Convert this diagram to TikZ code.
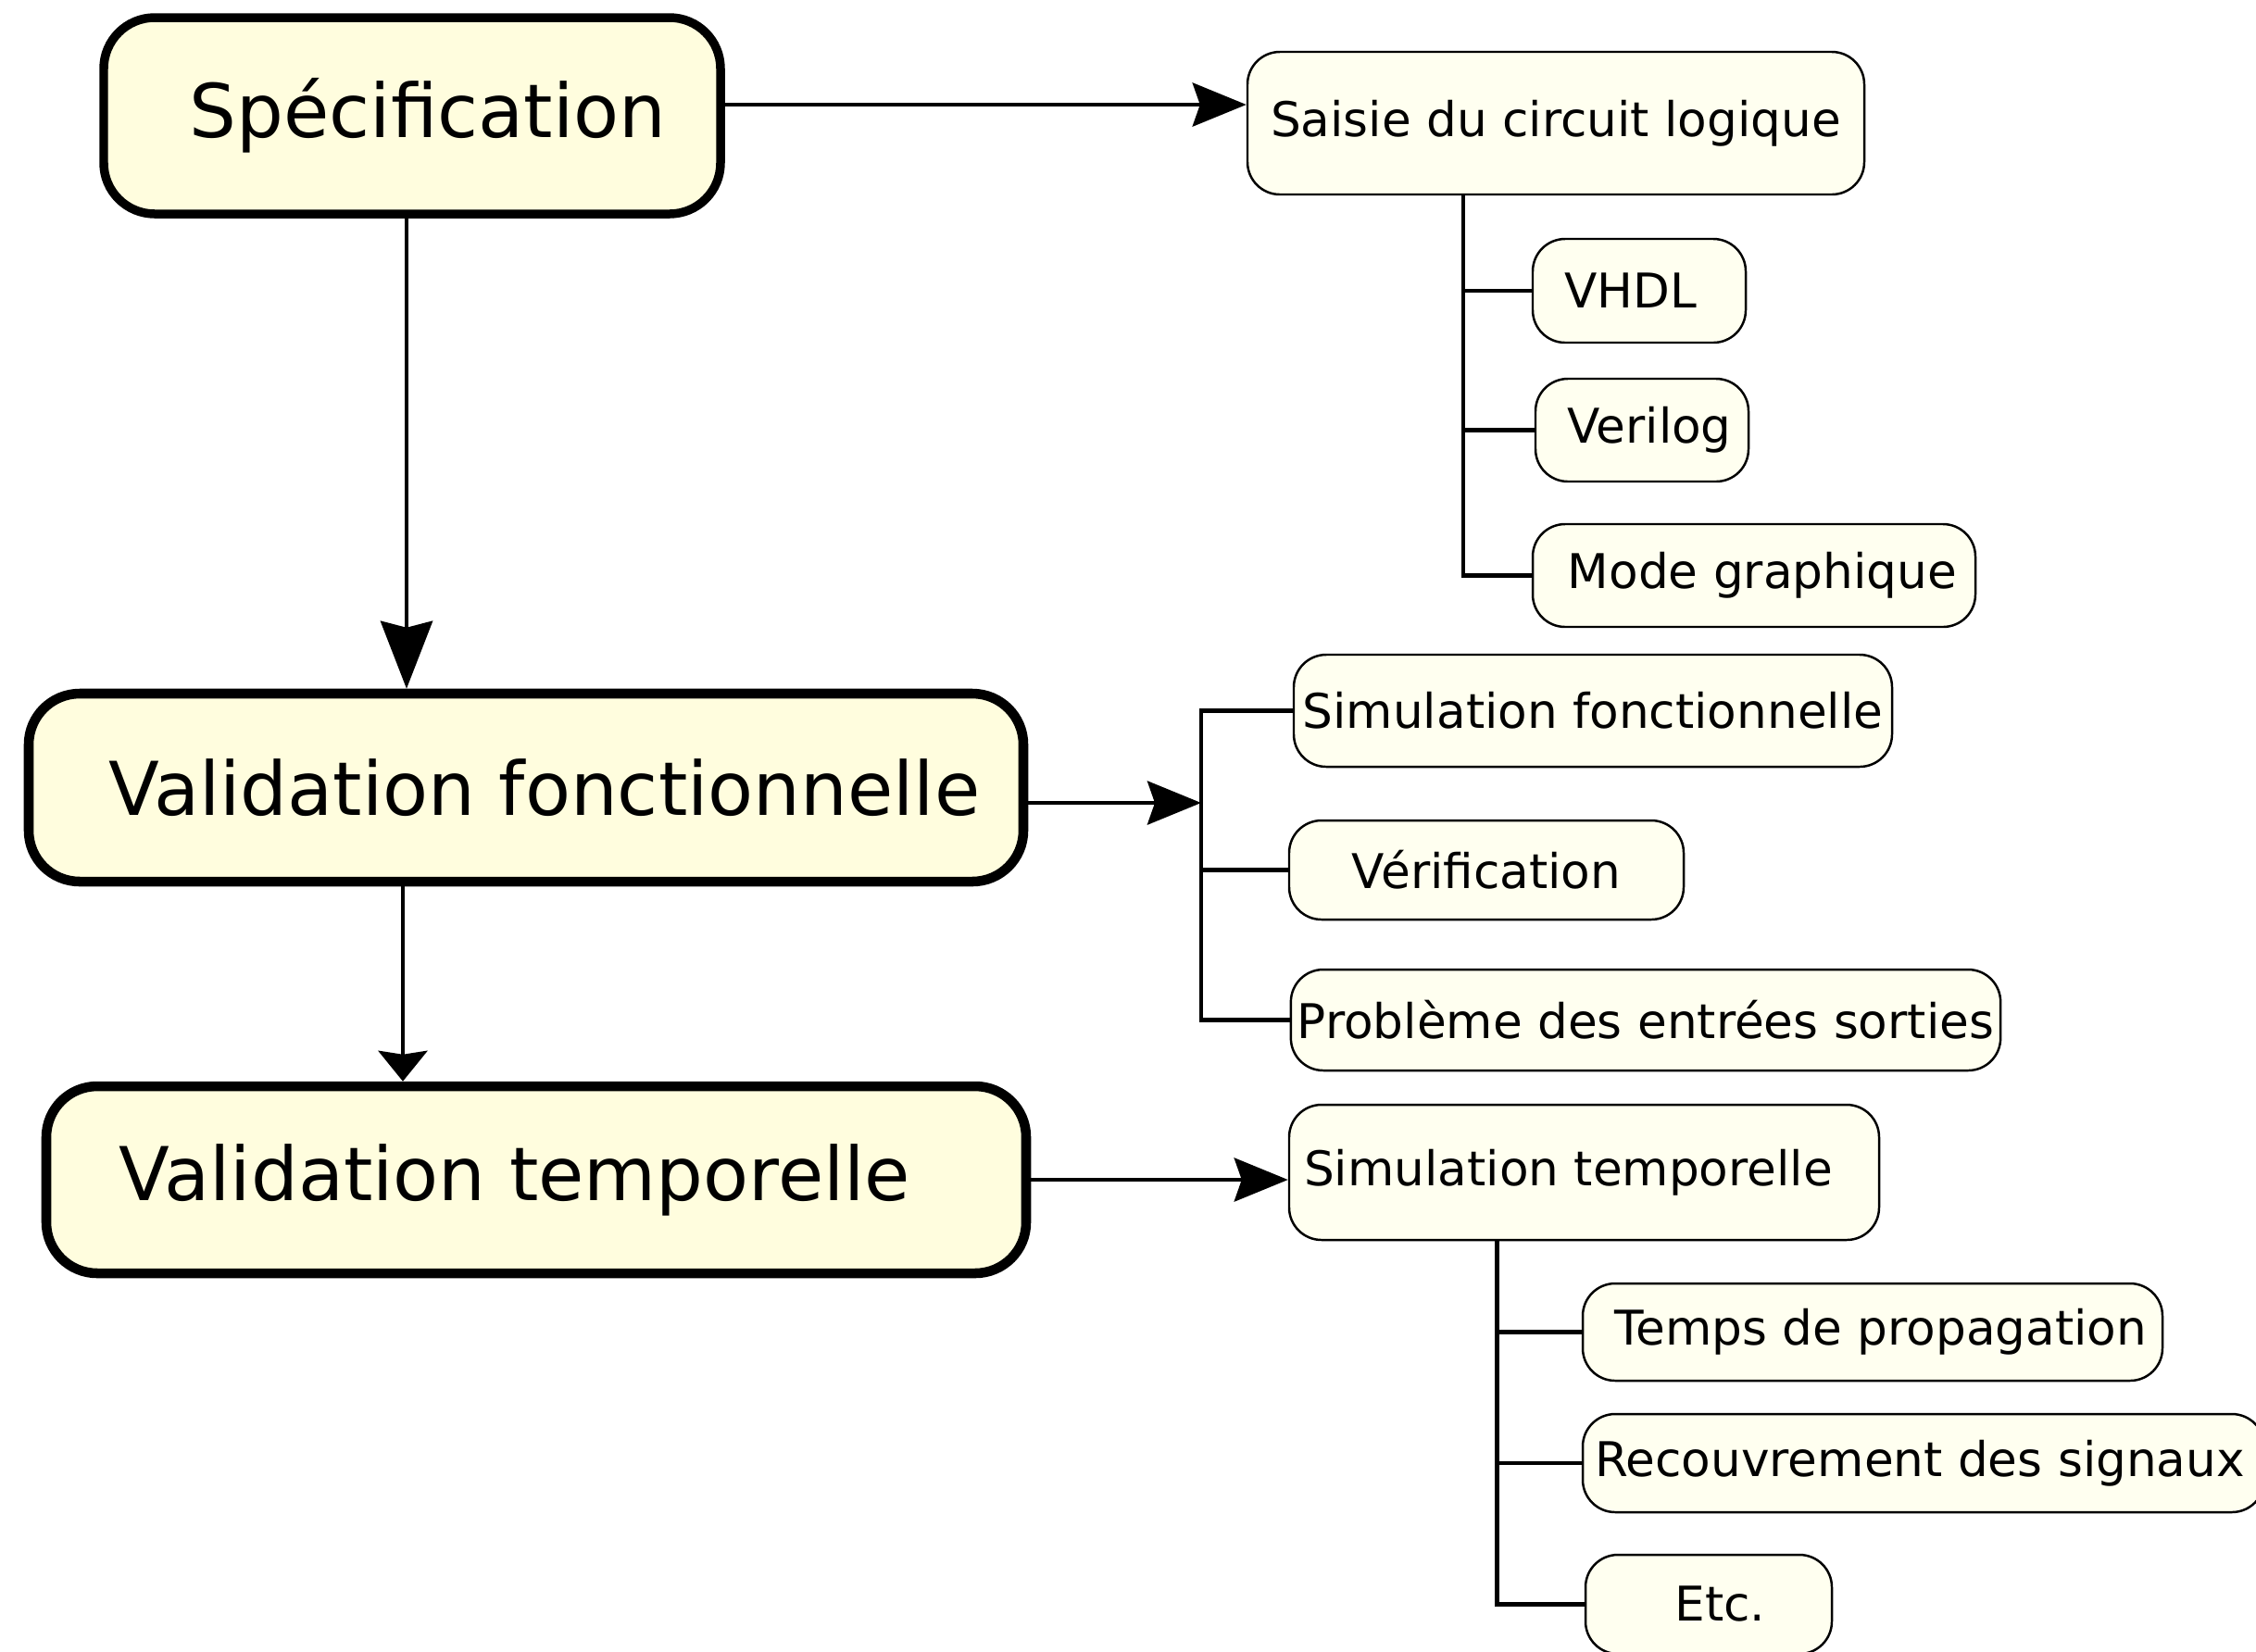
\documentclass[tikz,border=0pt]{standalone}
\usepackage{fontspec}
\setmainfont{DejaVu Sans}
\usetikzlibrary{arrows.meta,positioning}

\definecolor{phaseyellow}{RGB}{255,253,222}
\definecolor{taskivory}{RGB}{255,255,240}

\begin{document}
\begin{tikzpicture}[
    phase/.style={draw, line width=3pt, rounded corners=0.55cm, fill=phaseyellow,
                  font=\fontsize{22.8}{27}\selectfont, inner sep=2pt},
    task/.style={draw, line width=0.7pt, rounded corners=0.35cm, fill=taskivory,
                 font=\fontsize{14.7}{17}\selectfont, inner sep=2pt},
    link/.style={line width=1.2pt},
    flow/.style={line width=1.4pt, -{Stealth[length=0.58cm, width=0.47cm, inset=0.08cm]}},
]
\useasboundingbox (0,0) rectangle (24.36,-17.83);

% main phases
\node[phase, line width=2.7pt, minimum width=6.66cm, minimum height=2.12cm] (spec) at (4.45,-1.25) {\hspace*{0.34cm}Spécification};
\node[phase, minimum width=10.74cm, minimum height=2.03cm] (valf) at (5.68,-8.505) {\hspace*{0.40cm}Validation fonctionnelle};
\node[phase, minimum width=10.58cm, minimum height=2.02cm] (valt) at (5.79,-12.74) {Validation temporelle\hspace*{0.46cm}};

% tasks
\node[task, minimum width=6.66cm, minimum height=1.54cm] (saisie) at (16.80,-1.33) {Saisie du circuit logique};
\node[task, minimum width=2.30cm, minimum height=1.12cm] (vhdl) at (17.70,-3.14) {VHDL\hspace*{0.18cm}};
\node[task, minimum width=2.30cm, minimum height=1.11cm] (verilog) at (17.73,-4.645) {\hspace*{0.16cm}Verilog};
\node[task, minimum width=4.78cm, minimum height=1.11cm] (mode) at (18.94,-6.215) {\hspace*{0.18cm}Mode graphique};
\node[task, minimum width=6.46cm, minimum height=1.21cm] (simf) at (17.20,-7.675) {Simulation fonctionnelle};
\node[task, minimum width=4.26cm, minimum height=1.07cm] (verif) at (16.05,-9.395) {Vérification};
\node[task, minimum width=7.64cm, minimum height=1.09cm] (prob) at (17.77,-11.015) {Problème des entrées sorties};
\node[task, minimum width=6.37cm, minimum height=1.46cm] (simt) at (17.105,-12.66) {Simulation temporelle\hspace*{0.34cm}};
\node[task, minimum width=6.26cm, minimum height=1.05cm] (temps) at (20.22,-14.385) {\hspace*{0.18cm}Temps de propagation};
\node[task, minimum width=7.36cm, minimum height=1.06cm] (recouv) at (20.77,-15.80) {Recouvrement des signaux\hspace*{0.08cm}};
\node[task, minimum width=2.66cm, minimum height=1.07cm] (etc) at (18.45,-17.325) {\hspace*{0.25cm}Etc.};

% flow between phases
\draw[flow] ([yshift=0.12cm]spec.east) -- ([yshift=0.12cm]spec.east -| saisie.west);
\draw[flow, -{Stealth[length=0.73cm, width=0.56cm, inset=0.07cm]}] ([xshift=-0.06cm]spec.south) -- ([xshift=-0.06cm]spec.south |- valf.north);
\draw[flow, line width=1.3pt, -{Stealth[length=0.33cm, width=0.53cm, inset=0.04cm]}] ([xshift=-0.1cm]spec.south |- valf.south) -- ([xshift=-0.1cm]spec.south |- valt.north);

% saisie branches
\coordinate (trunkS) at ([xshift=-1cm]saisie.south);
\draw[link] (trunkS) |- (vhdl.west);
\draw[link] (trunkS) |- (verilog.west);
\draw[link] (trunkS) |- (mode.west);

% validation fonctionnelle bracket
\coordinate (barF) at (12.97,-8.67);
\draw[flow] (barF -| valf.east) -- (barF);
\draw[link] (simf.west) -| (barF) |- (prob.west);
\draw[link] (verif.west) -- (verif.west -| barF);

% validation temporelle branches
\draw[flow] (valt.east) -- (valt.east -| simt.west);
\coordinate (trunkT) at ([xshift=-0.94cm]simt.south);
\draw[link] (trunkT) |- (temps.west);
\draw[link] (trunkT) |- (recouv.west);
\draw[link] (trunkT) |- (etc.west);
\end{tikzpicture}
\end{document}
